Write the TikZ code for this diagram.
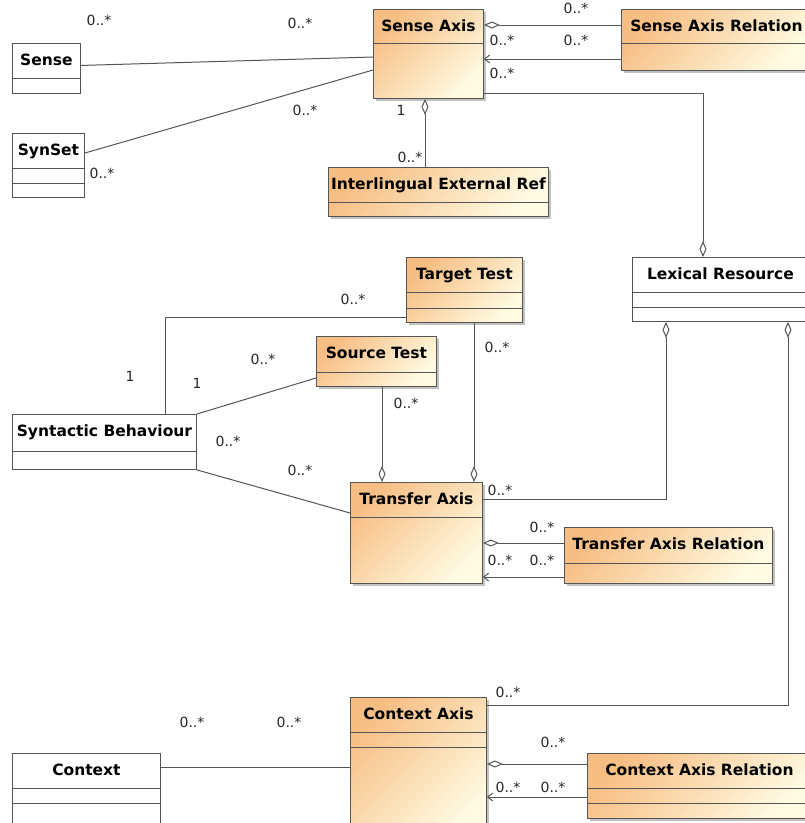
\documentclass[tikz,border=0pt]{standalone}
\usepackage{fontspec}
\setmainfont{DejaVu Sans}
\usepackage{color}
\usepackage{tikz}
\usetikzlibrary{arrows.meta,shadows}
\usepackage{pgf,pgffor}

\definecolor{classorange}{RGB}{247,190,132}
\definecolor{classyellow}{RGB}{255,251,226}
\definecolor{edgegray}{RGB}{85,85,85}

\begin{document}
\begin{tikzpicture}[x=1pt, y=-1pt,
		classbox/.style={draw=edgegray, line width=0.9pt, anchor=north west, inner xsep=1pt, inner ysep=10.5pt, text height=11.5pt, font=\fontsize{15.5}{18}\selectfont\bfseries},
		plainclass/.style={classbox, fill=white},
		fancyclass/.style={classbox, top color=classorange, bottom color=classyellow, shading angle=45, drop shadow={shadow xshift=3pt, shadow yshift=-3pt, fill=black!40, opacity=0.6}},
		compart/.style={draw=edgegray, line width=0.9pt},
		assoc/.style={draw=edgegray, line width=1pt},
		aggr/.style={assoc, -{Diamond[open, fill=white, length=16pt, width=7pt]}},
		nav/.style={assoc, -{Straight Barb[length=5pt, width=8pt]}},
		mult/.style={font=\fontsize{14}{16}\selectfont, text=black!85, inner sep=0pt}]

			\clip (0,0) rectangle (805,823);

			\node [plainclass, minimum width=68pt, text depth=17.5pt] (sense) at (12,43) {Sense};
			\node [plainclass, minimum width=72pt, text depth=31.5pt] (synset) at (12,133) {SynSet};
			\node [fancyclass, minimum width=110pt, text depth=56.5pt] (senseaxis) at (373,9) {Sense Axis};
			\node [fancyclass, minimum width=190pt, text depth=28.5pt] (senserel) at (621,9) {Sense Axis Relation};
			\node [fancyclass, minimum width=220pt, text depth=16.5pt] (extref) at (328,167) {Interlingual External Ref};
			\node [fancyclass, minimum width=116pt, text depth=32.5pt] (target) at (406,257) {Target Test};
			\node [plainclass, minimum width=176pt, text depth=31.5pt] (lexres) at (632,257) {Lexical Resource};
			\node [fancyclass, minimum width=120pt, text depth=17.5pt] (source) at (316,336) {Source Test};
			\node [plainclass, minimum width=184pt, text depth=22.5pt] (synbeh) at (12,414) {Syntactic Behaviour};
			\node [fancyclass, minimum width=132pt, text depth=68.5pt] (transfer) at (350,482) {Transfer Axis};
			\node [fancyclass, minimum width=208pt, text depth=23.5pt] (transrel) at (564,527) {Transfer Axis Relation};
			\node [fancyclass, minimum width=136pt, text depth=107.5pt] (ctxaxis) at (350,697) {Context Axis};
			\node [fancyclass, minimum width=224pt, text depth=32.5pt] (ctxrel) at (587,753) {Context Axis Relation};
			\node [plainclass, minimum width=148pt, text depth=47.5pt] (context) at (12,753) {Context};

			% compartments
			\foreach \n/\d in {sense/35, synset/35, synset/50, senseaxis/34, senserel/34, extref/35,
					target/35, target/51, lexres/35, lexres/50, source/36, synbeh/37, transfer/35,
					transrel/36, ctxaxis/35, ctxaxis/50, ctxrel/35, ctxrel/50, context/35, context/50}
				\draw [compart] ([yshift=-\d pt]\n.north west) -- ([yshift=-\d pt]\n.north east);

			% associations
			\draw [assoc] ([yshift=3pt]sense.east) -- ([yshift=-48pt]senseaxis.north west);
			\draw [assoc] ([yshift=-20pt]synset.north east) -- ([yshift=-61pt]senseaxis.north west);
			\draw [aggr] ([yshift=-16pt]senserel.north west) -- ([yshift=-16pt]senseaxis.north east);
			\draw [nav] ([yshift=-50pt]senserel.north west) -- ([yshift=-50pt]senseaxis.north east);
			\draw [aggr] ([yshift=-84pt]senseaxis.north east) -| ([xshift=71pt]lexres.north west);
			\draw [aggr] ([xshift=97pt]extref.north west) -- ([xshift=52pt]senseaxis.south west);
			\draw [assoc] ([xshift=153pt]synbeh.north west) |- ([yshift=-60pt]target.north west);
			\draw [assoc] (synbeh.north east) -- ([yshift=-42pt]source.north west);
			\draw [assoc] (synbeh.south east) -- ([yshift=-31pt]transfer.north west);
			\draw [aggr] ([xshift=66pt]source.south west) -- ([xshift=32pt]transfer.north west);
			\draw [aggr] ([xshift=68pt]target.south west) -- ([xshift=124pt]transfer.north west);
			\draw [aggr] ([yshift=-17pt]transfer.north east) -| ([xshift=34pt]lexres.south west);
			\draw [aggr] ([yshift=-16pt]transrel.north west) -- ([yshift=-61pt]transfer.north east);
			\draw [nav] ([yshift=-50pt]transrel.north west) -- ([yshift=-95pt]transfer.north east);
			\draw [aggr] ([yshift=-8pt]ctxaxis.north east) -| ([xshift=156pt]lexres.south west);
			\draw [aggr] ([yshift=-11pt]ctxrel.north west) -- ([yshift=-67pt]ctxaxis.north east);
			\draw [nav] ([yshift=-44pt]ctxrel.north west) -- ([yshift=-100pt]ctxaxis.north east);
			\draw [assoc] ([yshift=-14pt]context.north east) -- ([yshift=-70pt]ctxaxis.north west);

			% multiplicities
			\foreach \x/\y [count=\i] in {99/20, 300/23, 305/110, 102/173, 410/157, 576/8, 502/40, 576/40,
					502/73, 353/299, 263/359, 228/441, 300/470, 497/347, 406/403, 500/490, 542/527,
					500/560, 542/560, 192/722, 289/722, 508/692, 553/742, 508/787, 553/787}
				\node [mult] (m\i) at (\x,\y) {0..*};
			\node [mult] (one1) at (401,110) {1};
			\node [mult] (one2) at (130,376) {1};
			\node [mult] (one3) at (197,383) {1};

		\end{tikzpicture}
\end{document}
